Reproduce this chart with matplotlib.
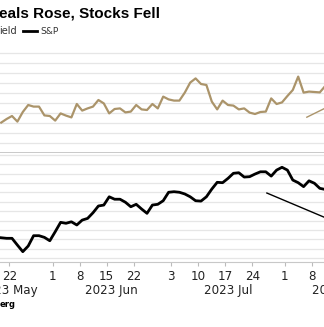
import numpy as np
import matplotlib
matplotlib.use("Agg")
import matplotlib.pyplot as plt
from matplotlib.lines import Line2D

# weekday dates of the series (May 18 .. Aug 10, 2023)
start = "2023-05-22"
dates = np.arange(np.datetime64("2023-05-18"), np.datetime64("2023-08-11"))
dates = dates[np.is_busday(dates, weekmask="1111100")]
x = np.busday_count(start, dates)

# 10-year real yield (%)
real_yield = [1.452, 1.470, 1.485, 1.457, 1.505, 1.540, 1.532, 1.532, 1.488, 1.485,
              1.462, 1.498, 1.487, 1.478, 1.545, 1.512, 1.523, 1.532, 1.565, 1.548,
              1.498, 1.520, 1.523, 1.503, 1.507, 1.540, 1.518, 1.515, 1.545, 1.523,
              1.582, 1.568, 1.562, 1.562, 1.602, 1.652, 1.673, 1.645, 1.640, 1.557,
              1.518, 1.562, 1.540, 1.537, 1.518, 1.523, 1.502, 1.495, 1.505, 1.507,
              1.573, 1.545, 1.553, 1.585, 1.615, 1.682, 1.602, 1.607, 1.605, 1.603,
              1.635]

# S&P 500
spx = [4209, 4206, 4206, 4170, 4135, 4165, 4220, 4220, 4211, 4193,
       4241, 4291, 4286, 4294, 4277, 4303, 4312, 4342, 4378, 4383,
       4427, 4414, 4414, 4398, 4374, 4387, 4362, 4339, 4383, 4387,
       4406, 4451, 4454, 4451, 4442, 4427, 4406, 4404, 4427, 4468,
       4504, 4502, 4525, 4552, 4555, 4532, 4534, 4548, 4560, 4560,
       4537, 4569, 4584, 4569, 4516, 4502, 4481, 4512, 4499, 4472,
       4466]

tick_dates = ["2023-05-22", "2023-06-01", "2023-06-08", "2023-06-15", "2023-06-22",
              "2023-07-03", "2023-07-10", "2023-07-17", "2023-07-24", "2023-08-01",
              "2023-08-08"]
tick_labels = ["22", "1", "8", "15", "22", "3", "10", "17", "24", "1", "8"]
month_labels = ["2023 May", "2023 Jun", "2023 Jul", "2023 Aug"]
month_pos = [-0.65, 18.4, 40.0, 60.9]

gold = "#ab946a"
grid_c = "#e6e6e6"

W, H = 324, 327
fig = plt.figure(figsize=(W / 100, H / 100), dpi=100)
ax1 = fig.add_axes([0, (H - 153) / H, 1, 103 / H])
ax2 = fig.add_axes([0, (H - 262) / H, 1, 109 / H])

xlim = (-12 / 5.4, (W - 12) / 5.4)

ax1.plot(x, real_yield, color=gold, lw=1.6, solid_joinstyle="round")
ax1.set_xlim(xlim)
ax1.set_ylim(1.30, 1.815)
ax1.set_yticks(np.arange(1.35, 1.81, 0.05))
ax1.set_xticks([])
ax1.tick_params(axis="y", length=0, labelleft=False)
ax1.grid(axis="y", color=grid_c, lw=0.9)
for s in ["top", "left", "right"]:
    ax1.spines[s].set_visible(False)
ax1.spines["bottom"].set_color("#c4c4c4")
ax1.spines["bottom"].set_linewidth(2)
# leader line
ax1.plot([54.6, 58.5], [1.479, 1.531], color=gold, lw=1.0)

ax2.plot(x, spx, color="black", lw=2.0, solid_joinstyle="round")
ax2.set_xlim(xlim)
ax2.set_ylim(4080, 4660)
ax2.set_yticks(np.arange(4100, 4651, 50))
ax2.tick_params(axis="y", length=0, labelleft=False)
ax2.grid(axis="y", color=grid_c, lw=0.9)
for s in ["top", "left", "right"]:
    ax2.spines[s].set_visible(False)
ax2.spines["bottom"].set_color("#c8c8c8")
ax2.spines["bottom"].set_linewidth(0.8)
ticks = np.busday_count(start, np.array(tick_dates, dtype="datetime64[D]")) - 0.5
ax2.set_xticks(ticks)
ax2.set_xticklabels(tick_labels, fontsize=8.6, color="#222222")
ax2.tick_params(axis="x", length=3, color="#bbbbbb", pad=3)
for lab, p in zip(month_labels, month_pos):
    ax2.text(p, -0.262, lab, transform=ax2.get_xaxis_transform(), ha="center",
             va="center", fontsize=8.6, color="#222222")
ax2.plot([47.2, 58.5], [4447, 4310], color="black", lw=1.0)

fig.text(-0.002, 1 - 18 / H, "eals Rose, Stocks Fell", fontsize=11,
         fontweight="bold", family="Liberation Sans", va="baseline")
fig.text(-0.003, 1 - 34 / H, "ield", fontsize=7, color="#333333", va="baseline")
fig.add_artist(Line2D([23 / W, 37 / W], [1 - 31 / H, 1 - 31 / H], color="black", lw=2))
fig.text(40 / W, 1 - 34 / H, "S&P", fontsize=6.5, color="#333333", va="baseline")
fig.text(-0.002, 1 - 307 / H, "erg", fontsize=6, fontweight="bold", va="baseline")

fig.savefig("out.png", dpi=100)
